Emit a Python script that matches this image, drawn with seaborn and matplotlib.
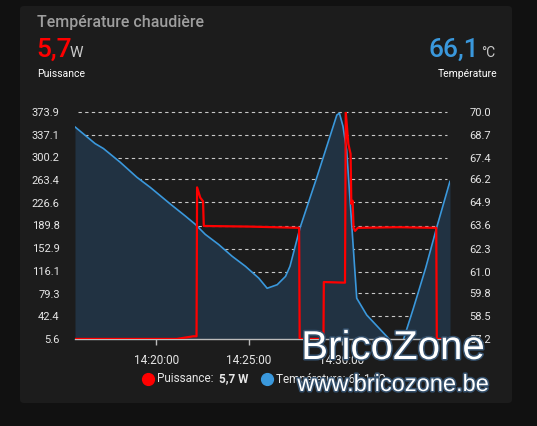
import numpy as np
import pandas as pd
import seaborn as sns
import matplotlib.pyplot as plt
import matplotlib.dates as mdates
import matplotlib.patheffects as pe
from matplotlib.patches import FancyBboxPatch
from matplotlib.lines import Line2D

# --- data (minutes relative to 14:20:00) ---
temp_min = [-4.37, -3.83, -3.29, -2.84, -1.94, -1.04, -0.32, 0.22, 0.76, 1.56, 2.10, 2.64, 3.36, 4.08, 4.80,
            5.52, 5.97, 6.51, 6.96, 7.2, 7.74, 8.64, 9.72, 9.86, 10.05, 10.25, 10.79, 11.33, 12.0, 12.58, 13.3,
            13.84, 14.5, 15.09, 15.81]
temp_val = [69.16, 68.69, 68.22, 67.94, 67.17, 66.32, 65.75, 65.28, 64.81, 64.14, 63.67, 63.10, 62.53, 61.87, 61.30,
            60.63, 60.06, 60.26, 60.73, 61.3, 63.47, 66.3, 69.83, 69.93, 69.2, 67.84, 59.5, 58.55, 57.8, 57.15, 57.15,
            58.93, 61.2, 63.47, 66.1]

power_min = [-4.37, 1.11, 2.0, 2.17, 2.2, 2.37, 2.52, 2.56, 5.0, 7.69, 7.72, 9.0, 9.02, 10.16, 10.2,
             10.34, 10.46, 10.5, 10.57, 10.62, 10.7, 10.85, 13.0, 15.07, 15.1, 15.81]
power_val = [5.7, 5.7, 10.0, 10.0, 251.6, 235.0, 229.0, 189.0, 188.0, 186.0, 5.7, 5.7, 98.0, 97.0, 373.9,
             322.0, 306.0, 225.0, 230.0, 186.0, 181.0, 186.0, 187.0, 186.0, 5.7, 5.7]

w_ticks = [5.6, 42.4, 79.3, 116.1, 152.9, 189.8, 226.6, 263.4, 300.2, 337.1, 373.9]
c_ticks = [57.2, 58.5, 59.8, 61.0, 62.3, 63.6, 64.9, 66.2, 67.4, 68.7, 70.0]

base = pd.Timestamp("2023-01-01 14:20:00")
df_t = pd.DataFrame({"time": base + pd.to_timedelta(temp_min, unit="min"), "temp": temp_val})
df_p = pd.DataFrame({"time": base + pd.to_timedelta(power_min, unit="min"), "power": power_val})

W, H = 537, 426
def fx(px): return px / W
def fy(py): return 1 - py / H

sns.set_theme(style="dark")
plt.rcParams['font.family'] = ['Roboto', 'DejaVu Sans']

RED = "#ff0000"
BLUE = "#3a98dc"
TXT = "#e6e6e6"

fig = plt.figure(figsize=(W / 100, H / 100), dpi=100, facecolor="#111111")
card = FancyBboxPatch((fx(20), fy(403)), fx(492), 397 / H, boxstyle="round,pad=0,rounding_size=0.008",
                      transform=fig.transFigure, facecolor="#1c1c1c", edgecolor="none", zorder=-5)
fig.patches.append(card)

ax = fig.add_axes([fx(75), fy(339), fx(375), 227 / H])   # temperature (right axis)
ax2 = ax.twinx()                                          # power (left axis), drawn on top
ax.set_facecolor("none")
ax2.set_facecolor("none")

ax.fill_between(df_t["time"], df_t["temp"], 57.2, color="#213242", lw=0)
sns.lineplot(data=df_t, x="time", y="temp", ax=ax, color=BLUE, lw=1.2, sort=False, estimator=None)
sns.lineplot(data=df_p, x="time", y="power", ax=ax2, color=RED, lw=1.6, sort=False, estimator=None)

ax.set_xlim(df_t["time"].iloc[0], df_t["time"].iloc[-1])
ax.set_ylim(57.2, 70.0)
ax2.set_ylim(5.6, 373.9)

ax.yaxis.tick_right()
ax2.yaxis.tick_left()
ax.set_yticks(c_ticks)
ax.set_yticklabels([f"{v:.1f}" for v in c_ticks])
ax2.set_yticks(w_ticks)
ax2.set_yticklabels([f"{v:.1f}" for v in w_ticks])
ax.tick_params(axis="y", right=False, left=False, labelright=True, labelleft=False, pad=8, labelsize=8, colors=TXT)
ax2.tick_params(axis="y", left=False, right=False, labelleft=True, labelright=False, pad=5, labelsize=8, colors=TXT)

ax.xaxis.set_major_locator(mdates.MinuteLocator(byminute=[20, 25, 30]))
ax.xaxis.set_major_formatter(mdates.DateFormatter("%H:%M:%S"))
ax.tick_params(axis="x", bottom=True, length=4, width=1, color="#bbbbbb", pad=7, labelsize=8.5, colors=TXT)
ax2.tick_params(axis="x", bottom=False, labelbottom=False)

for a in (ax, ax2):
    a.set_xlabel("")
    a.set_ylabel("")
    for s in a.spines.values():
        s.set_visible(False)
ax.spines["bottom"].set_visible(True)
ax.spines["bottom"].set_color("#bbbbbb")
ax.spines["bottom"].set_linewidth(1)

ax.grid(False)
ax2.grid(False)
for v in c_ticks[1:]:
    ax.axhline(v, xmin=0.008, xmax=0.992, color="#c8c8c8", lw=0.8, ls=(0, (3, 3)), zorder=0.5, clip_on=False)

# header
fig.text(fx(37), fy(22), "Température chaudière", color="#9e9e9e", fontsize=11.5, va="center", ha="left",
         fontweight="medium")
fig.text(fx(36), fy(57), "5,7", color=RED, fontsize=19, va="baseline", ha="left", fontweight="medium")
fig.text(fx(70), fy(57), "W", color="#c8c8c8", fontsize=11, va="baseline", ha="left")
fig.text(fx(37), fy(74), "Puissance", color="#ffffff", fontsize=7.5, va="center", ha="left")
fig.text(fx(479), fy(57), "66,1", color=BLUE, fontsize=19, va="baseline", ha="right", fontweight="medium")
fig.text(fx(481), fy(57), "°C", color="#c8c8c8", fontsize=10, va="baseline", ha="left")
fig.text(fx(497), fy(74), "Température", color="#ffffff", fontsize=7.5, va="center", ha="right")

# legend
fig.add_artist(Line2D([fx(148)], [fy(379)], marker="o", ms=8.5, color=RED, lw=0, transform=fig.transFigure))
fig.text(fx(157), fy(379), "Puissance: ", color=TXT, fontsize=8.5, va="center", ha="left")
fig.text(fx(219), fy(379), "5,7 W", color=TXT, fontsize=8.5, va="center", ha="left", fontweight="bold")
fig.add_artist(Line2D([fx(267)], [fy(379)], marker="o", ms=8.5, color=BLUE, lw=0, transform=fig.transFigure))
fig.text(fx(276), fy(379), "Température: 66,1 °C", color=TXT, fontsize=8.5, va="center", ha="left")

# watermark
stroke = [pe.withStroke(linewidth=2.2, foreground="#34506c")]
fig.text(fx(393), fy(359), "BricoZone", color="#ffffff", fontsize=29, family="Liberation Sans",
         va="baseline", ha="center", path_effects=stroke)
fig.text(fx(393), fy(391), "www.bricozone.be", color="#ffffff", fontsize=17, family="Liberation Sans",
         va="baseline", ha="center", path_effects=stroke)

fig.savefig("out.png", dpi=100, facecolor=fig.get_facecolor())
